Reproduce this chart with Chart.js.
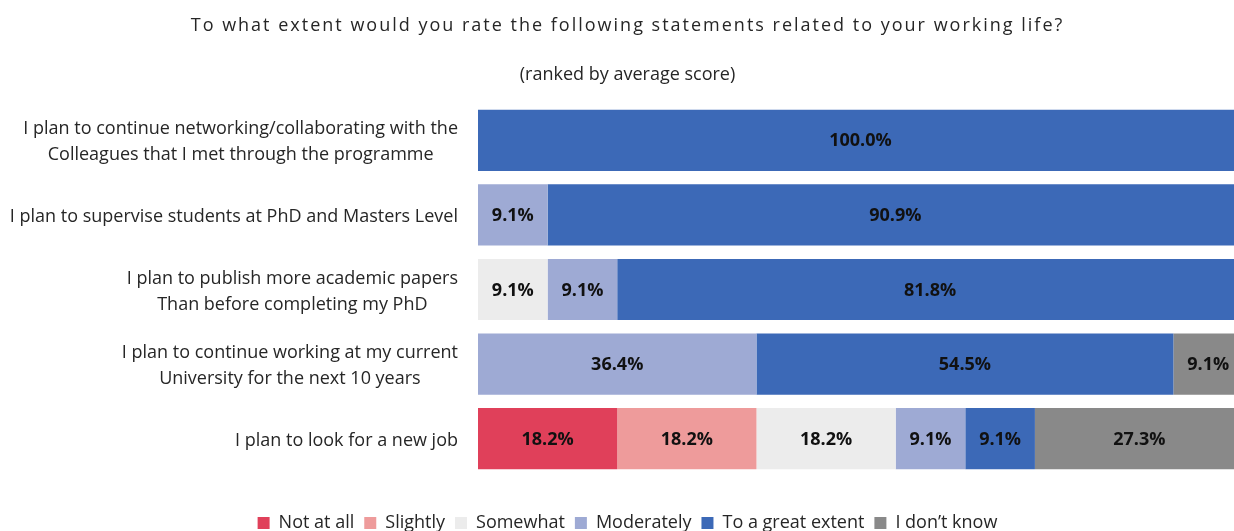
<!DOCTYPE html>
<html>
<head>
<meta charset="utf-8">
<script src="https://cdn.jsdelivr.net/npm/chart.js@4.4.1/dist/chart.umd.min.js"></script>
<style>
    html, body { margin: 0; padding: 0; background: #ffffff; overflow: hidden; }
    .wrap { position: relative; width: 1254px; height: 542px; }
</style>
</head>
<body>
<div class="wrap"><canvas id="ratingChart"></canvas></div>
<script>
const statements = [
    ['I plan to continue networking/collaborating with the', 'Colleagues that I met through the programme'],
    ['I plan to supervise students at PhD and Masters Level'],
    ['I plan to publish more academic papers', 'Than before completing my PhD'],
    ['I plan to continue working at my current', 'University for the next 10 years'],
    ['I plan to look for a new job']
];
const levels = ['Not at all', 'Slightly', 'Somewhat', 'Moderately', 'To a great extent', 'I don\u2019t know'];
const levelColors = ['#e0405a', '#ee9b9b', '#ececec', '#9eaad4', '#3c69b7', '#898989'];

const notAtAll    = [0, 0, 0, 0, 18.2];
const slightly    = [0, 0, 0, 0, 18.2];
const somewhat    = [0, 0, 9.1, 0, 18.2];
const moderately  = [0, 9.1, 9.1, 36.4, 9.1];
const greatExtent = [100, 90.9, 81.8, 54.5, 9.1];
const dontKnow    = [0, 0, 0, 9.1, 27.3];

const seriesValues = [notAtAll, slightly, somewhat, moderately, greatExtent, dontKnow];

const titleText = 'To what extent would you rate the following statements related to your working life?';
const FONT = "'Open Sans', sans-serif";

// title drawn by hand so it can be letter-spaced; the plugin title keeps the layout
const spacedTitle = {
    id: 'spacedTitle',
    afterDraw(chart) {
        const tb = chart.titleBlock;
        if (!tb) return;
        const ctx = chart.ctx;
        ctx.save();
        ctx.font = '18px ' + FONT;
        ctx.letterSpacing = '2px';
        ctx.fillStyle = '#262626';
        ctx.textAlign = 'center';
        ctx.textBaseline = 'middle';
        ctx.fillText(titleText, (tb.left + tb.right) / 2, tb.top + 15 + 10.8);
        ctx.restore();
    }
};

// value labels centred in each segment
const segmentLabels = {
    id: 'segmentLabels',
    afterDatasetsDraw(chart) {
        const ctx = chart.ctx;
        ctx.save();
        ctx.font = 'bold 18px ' + FONT;
        ctx.fillStyle = '#111111';
        ctx.textAlign = 'center';
        ctx.textBaseline = 'middle';
        chart.data.datasets.forEach((ds, i) => {
            const meta = chart.getDatasetMeta(i);
            meta.data.forEach((bar, j) => {
                const v = ds.data[j];
                if (!v) return;
                ctx.fillText(v.toFixed(1) + '%', (bar.x + bar.base) / 2, bar.y + 1);
            });
        });
        ctx.restore();
    }
};

// statement labels: block right aligned, lines centred inside the block
const statementLabels = {
    id: 'statementLabels',
    afterDraw(chart) {
        const ctx = chart.ctx;
        const yScale = chart.scales.y;
        const rightEdge = chart.chartArea.left - 20;
        const lineH = 26;
        ctx.save();
        ctx.font = '18px ' + FONT;
        ctx.fillStyle = '#262626';
        ctx.textAlign = 'center';
        ctx.textBaseline = 'middle';
        statements.forEach((lines, i) => {
            const cy = yScale.getPixelForValue(i) + 2;
            const maxW = Math.max(...lines.map(l => ctx.measureText(l).width));
            const cx = rightEdge - maxW / 2;
            const top = cy - (lines.length - 1) * lineH / 2;
            lines.forEach((l, k) => ctx.fillText(l, cx, top + k * lineH));
        });
        ctx.restore();
    }
};

new Chart(document.getElementById('ratingChart'), {
    type: 'bar',
    data: {
        labels: statements.map(s => s.join(' ')),
        datasets: levels.map((name, i) => ({
            label: name,
            data: seriesValues[i],
            backgroundColor: levelColors[i],
            borderWidth: 0,
            categoryPercentage: 1,
            barPercentage: 0.82
        }))
    },
    options: {
        indexAxis: 'y',
        responsive: true,
        maintainAspectRatio: false,
        animation: false,
        layout: { padding: { left: 12, right: 11, top: 0, bottom: 0 } },
        plugins: {
            title: {
                display: true,
                text: titleText,
                color: 'rgba(0,0,0,0)',
                font: { family: FONT, size: 18, weight: 'normal', lineHeight: 1.2 },
                padding: { top: 15, bottom: 27.6 }
            },
            subtitle: {
                display: true,
                text: '(ranked by average score)',
                color: '#262626',
                font: { family: FONT, size: 18, weight: 'normal', lineHeight: 1.2 },
                padding: { top: 0, bottom: 17.2 }
            },
            legend: {
                position: 'bottom',
                labels: {
                    color: '#262626',
                    font: { family: FONT, size: 18 },
                    boxWidth: 12,
                    boxHeight: 12,
                    padding: 10
                }
            },
            tooltip: { enabled: false }
        },
        scales: {
            x: {
                stacked: true,
                min: 0,
                max: 100,
                grid: { display: false },
                border: { display: false },
                ticks: { display: false },
                afterFit: (s) => { s.height = 28; }
            },
            y: {
                stacked: true,
                grid: { display: false },
                border: { display: false },
                ticks: { display: false },
                afterFit: (s) => { s.width = 466; }
            }
        }
    },
    plugins: [segmentLabels, statementLabels, spacedTitle]
});
</script>
</body>
</html>
